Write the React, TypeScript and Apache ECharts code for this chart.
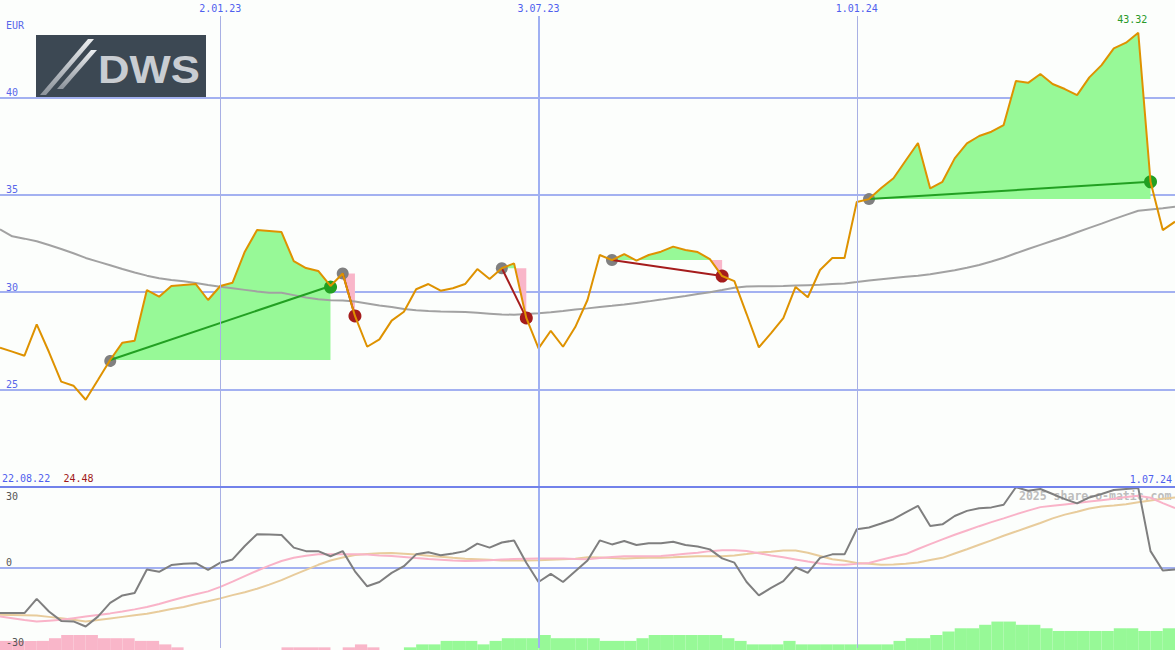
import React, { useEffect, useRef } from 'react';
import * as echarts from 'echarts';

// Weekly closing prices (EUR), first week starting 29.08.22
const seriesStart = '2022-08-29';
const axisEndDate = '2024-07-01';

const price = [
  27.15, 26.95, 26.74, 28.35, 26.93, 25.41, 25.2, 24.48, 25.49, 26.52,
  27.41, 27.51, 30.11, 29.77, 30.32, 30.37, 30.42, 29.6, 30.32, 30.49,
  32.08, 33.19, 33.14, 33.09, 31.6, 31.24, 31.09, 30.32, 30.96, 28.78,
  27.2, 27.58, 28.54, 29.0, 30.15, 30.42, 30.08, 30.2, 30.42, 31.19,
  30.68, 31.23, 31.48, 28.68, 27.12, 28.02, 27.2, 28.21, 29.6, 31.91,
  31.65, 31.96, 31.62, 31.91, 32.08, 32.34, 32.17, 32.06, 31.7, 30.83,
  30.57, 28.88, 27.17, 27.9, 28.67, 30.27, 29.74, 31.14, 31.76, 31.76,
  34.63, 34.78, 35.35, 35.85, 36.76, 37.66, 35.33, 35.67, 36.87, 37.64,
  38.02, 38.24, 38.58, 40.84, 40.75, 41.2, 40.69, 40.43, 40.12, 41.03,
  41.66, 42.52, 42.81, 43.32, 35.67, 33.19, 33.62,
];

// Long moving average of the price
const priceAverage = [
  33.23, 32.87, 32.75, 32.62, 32.42, 32.22, 32.0, 31.76, 31.57, 31.38,
  31.19, 31.01, 30.85, 30.72, 30.63, 30.56, 30.47, 30.37, 30.28, 30.2,
  30.12, 30.04, 29.97, 29.97, 29.85, 29.73, 29.64, 29.59, 29.57, 29.52,
  29.42, 29.32, 29.24, 29.14, 29.08, 29.03, 29.01, 29.0, 28.98, 28.94,
  28.9, 28.86, 28.84, 28.88, 28.92, 28.97, 29.03, 29.11, 29.17, 29.24,
  29.3, 29.37, 29.45, 29.53, 29.62, 29.72, 29.81, 29.91, 30.0, 30.11,
  30.23, 30.29, 30.3, 30.31, 30.32, 30.34, 30.36, 30.38, 30.42, 30.45,
  30.52, 30.6, 30.67, 30.73, 30.79, 30.85, 30.92, 31.03, 31.13, 31.26,
  31.4, 31.58, 31.77, 32.0, 32.22, 32.43, 32.64, 32.85, 33.08, 33.3,
  33.52, 33.75, 33.97, 34.18, 34.25, 34.31, 34.39,
];

// Momentum indicator and its two smoothings
const momentum = [
  -17.0, -17.0, -17.0, -11.7, -16.4, -19.9, -20.1, -22.0, -18.3, -13.2,
  -10.4, -9.5, -0.75, -1.6, 0.9, 1.4, 1.6, -0.9, 1.8, 3.0,
  8.0, 12.4, 12.3, 12.1, 7.4, 6.1, 6.1, 4.2, 6.1, -1.4,
  -7.0, -5.4, -2.0, 0.5, 4.9, 5.7, 4.6, 5.25, 6.1, 8.9,
  7.4, 9.3, 10.1, 1.8, -5.4, -2.4, -5.4, -1.4, 2.6, 10.1,
  8.6, 9.9, 8.4, 9.0, 9.0, 9.6, 8.4, 7.8, 6.75, 3.4,
  1.8, -5.4, -10.4, -7.6, -5.1, 0.1, -2.0, 3.6, 4.9, 4.9,
  14.25, 14.9, 16.4, 18.0, 20.5, 23.0, 15.5, 16.1, 19.2, 21.1,
  22.1, 22.4, 23.4, 29.9, 28.6, 29.25, 27.4, 25.5, 23.9, 26.1,
  27.4, 28.9, 29.25, 29.6, 6.1, -1.1, -0.75,
];

const momentumFast = [
  -18.3, -18.9, -19.6, -20.1, -19.8, -19.5, -18.9, -18.3, -17.7, -17.1,
  -16.4, -15.6, -14.7, -13.6, -12.3, -11.1, -10.0, -8.9, -7.2, -5.25,
  -3.2, -1.2, 0.7, 2.4, 3.6, 4.4, 4.9, 4.9, 4.9, 4.9,
  4.8, 4.5, 4.3, 3.9, 3.5, 3.15, 2.9, 2.6, 2.4, 2.55,
  2.7, 3.0, 3.15, 3.3, 3.4, 3.4, 3.4, 3.2, 3.1, 3.5,
  3.9, 4.2, 4.2, 4.2, 4.3, 4.7, 5.1, 5.5, 6.1, 6.4,
  6.4, 6.15, 5.3, 4.5, 3.8, 3.0, 2.2, 1.5, 1.1, 1.0,
  1.35, 1.7, 2.9, 4.0, 5.0, 6.9, 8.7, 10.5, 12.2, 13.8,
  15.4, 16.9, 18.3, 19.8, 21.2, 22.5, 23.0, 23.5, 24.0, 24.6,
  25.1, 25.6, 26.3, 26.7, 26.0, 24.0, 22.1,
];

const momentumSlow = [
  -17.6, -17.7, -17.8, -17.9, -18.4, -18.9, -19.5, -20.1, -19.6, -19.0,
  -18.4, -17.8, -17.2, -16.4, -15.5, -14.7, -13.6, -12.6, -11.5, -10.3,
  -9.2, -7.9, -6.4, -4.7, -2.75, -0.9, 1.0, 2.6, 3.7, 4.65,
  5.0, 5.3, 5.4, 5.1, 4.8, 4.4, 4.0, 3.6, 3.3, 3.1,
  2.85, 2.6, 2.6, 2.6, 2.7, 2.9, 3.1, 3.3, 3.8, 3.7,
  3.5, 3.4, 3.5, 3.6, 3.6, 3.8, 4.05, 4.2, 4.2, 4.2,
  4.5, 5.0, 5.55, 5.9, 6.3, 6.3, 5.5, 4.3, 3.1, 2.5,
  1.7, 1.4, 1.0, 1.1, 1.4, 1.9, 2.8, 3.6, 5.2, 6.8,
  8.5, 10.1, 11.85, 13.4, 15.0, 16.6, 18.3, 19.7, 20.8, 22.0,
  22.7, 23.1, 23.6, 24.3, 25.0, 25.6, 26.1,
];

// Weekly histogram: negative = pink, positive = green
const momentumHistogram = [
  -3.4, -3.4, -3.4, -3.4, -4.4, -5.6, -5.6, -5.6, -4.4, -4.4,
  -4.4, -3.4, -3.4, -2.1, -1.0, 0, 0, 0, 0, 0,
  0, 0, 0, -1.0, -1.0, -1.0, -1.0, 0, -1.0, -2.1,
  -1.0, 0, 0, 1.0, 2.1, 2.1, 3.4, 3.4, 3.4, 2.1,
  3.4, 4.4, 4.4, 4.4, 5.6, 4.4, 4.4, 4.4, 4.4, 3.4,
  3.4, 3.4, 4.4, 5.6, 5.6, 5.6, 5.6, 5.6, 5.6, 4.4,
  3.4, 2.1, 2.1, 2.1, 3.4, 2.1, 2.1, 2.1, 2.1, 2.1,
  2.1, 2.1, 2.1, 3.4, 4.4, 4.4, 5.6, 6.9, 8.1, 8.1,
  9.4, 10.6, 10.6, 9.4, 9.4, 8.1, 7.1, 7.1, 7.1, 7.1,
  7.1, 8.1, 8.1, 7.1, 7.1, 8.1, 0,
];

// Trades: entry and exit weeks
const tradeEntryDates = ['2022-10-31', '2023-03-13', '2023-06-12', '2023-08-14', '2024-01-08'];
const tradeExitDates = ['2023-03-06', '2023-03-20', '2023-06-26', '2023-10-16', '2024-06-17'];

// Date markers along the time axis
const markDates = ['2023-01-02', '2023-07-03', '2024-01-01'];
const markLabels = ['2.01.23', '3.07.23', '1.01.24'];

const priceTicks = [25, 30, 35, 40];
const currency = 'EUR';
const periodStartLabel = '22.08.22';
const periodEndLabel = '1.07.24';
const watermark = '2025 share-o-matic.com';

const WEEK = 7 * 24 * 3600 * 1000;
const t0 = Date.parse(seriesStart);
const times = price.map((_, i) => t0 + i * WEEK);
const weekIndex = (d: string) => Math.round((Date.parse(d) - t0) / WEEK);

const trades = tradeEntryDates.map((d, k) => {
  const entry = weekIndex(d);
  const exit = weekIndex(tradeExitDates[k]);
  return { entry, exit };
});

const MONO = '"DejaVu Sans Mono", monospace';
const BLUE_TEXT = '#4f60ee';
const GRID_BLUE = '#a3b1f1';
const FILL_GREEN = '#97f997';
const FILL_PINK = '#f9b6c9';
const WIN = '#22a022';
const LOSS = '#a51c1c';
const HIST_BASE = -30.75;

export default function App() {
  const ref = useRef<HTMLDivElement>(null);

  useEffect(() => {
    document.body.style.margin = '0';
    const chart = echarts.init(ref.current!, null, { renderer: 'svg' });

    const pricePoints = times.map((t, i) => [t, price[i]]);
    const minPrice = Math.min(...price);

    const silver = new echarts.graphic.LinearGradient(0, 0, 0, 1, [
      { offset: 0, color: '#eceef0' },
      { offset: 1, color: '#8c939b' },
    ]);

    const verticalMarks = (withLabels: boolean) =>
      markDates.map((d, k) => ({
        xAxis: Date.parse(d),
        lineStyle: k === 1
          ? { color: '#9fb0f2', width: 2, type: 'solid' }
          : { color: '#a8b0e4', width: 1, type: 'solid' },
        label: withLabels
          ? { show: true, position: 'end', formatter: markLabels[k], color: BLUE_TEXT, fontFamily: MONO, fontSize: 10, distance: 3 }
          : { show: false },
      }));

    const option: any = {
      animation: false,
      backgroundColor: '#fcfefc',
      grid: [
        { left: 0, right: 0, top: 16, height: 471 },
        { left: 0, right: 0, top: 487, height: 161 },
      ],
      xAxis: [
        { type: 'time', gridIndex: 0, min: t0, max: Date.parse(axisEndDate), show: false },
        { type: 'time', gridIndex: 1, min: t0, max: Date.parse(axisEndDate), show: false },
      ],
      yAxis: [
        {
          type: 'value', gridIndex: 0, min: 20, max: 44.18, interval: 5,
          axisLine: { show: false }, axisTick: { show: false },
          axisLabel: {
            inside: true, verticalAlign: 'bottom', margin: 6, color: '#5867ea', fontFamily: MONO, fontSize: 10,
            formatter: (v: number) => (priceTicks.includes(v) ? String(v) : ''),
          },
          splitLine: { show: true, showMinLine: false, showMaxLine: false, lineStyle: { color: GRID_BLUE, width: 2 } },
          name: currency, nameLocation: 'end', nameGap: -4,
          nameTextStyle: { align: 'left', verticalAlign: 'top', padding: [0, 0, 0, 6], color: '#5867ea', fontFamily: MONO, fontSize: 10 },
        },
        {
          type: 'value', gridIndex: 1, min: -30, max: 30, interval: 30,
          axisLine: { show: false }, axisTick: { show: false },
          axisLabel: {
            inside: true, verticalAlign: 'bottom', margin: 6, color: '#555555', fontFamily: MONO, fontSize: 10,
            formatter: (v: number) => (v === 0 ? '0' : ''),
          },
          splitLine: { show: true, showMinLine: false, showMaxLine: false, lineStyle: { color: GRID_BLUE, width: 2 } },
        },
      ],
      graphic: [
        {
          type: 'text', left: 1019, top: 490, z: 0, silent: true,
          style: { text: watermark, font: `bold 11.5px ${MONO}`, fill: '#bdbdbd' },
        },
        {
          type: 'group', left: 36, top: 35, z: 100, silent: true,
          children: [
            { type: 'rect', shape: { x: 0, y: 0, width: 170, height: 63 }, style: { fill: '#3c4853' } },
            { type: 'polygon', shape: { points: [[4, 60], [10, 60], [58, 4], [52, 4]] }, style: { fill: silver } },
            { type: 'polygon', shape: { points: [[21, 54], [27, 54], [61, 15], [55, 15]] }, style: { fill: silver } },
            {
              type: 'text', x: 62, y: 35, scaleX: 1.15,
              style: { text: 'DWS', font: 'bold 38px "Liberation Sans", Arial, sans-serif', fill: '#c9cdd2', verticalAlign: 'middle' },
            },
          ],
        },
      ],
      series: [
        {
          // profit / loss areas between price and entry level
          type: 'custom', xAxisIndex: 0, yAxisIndex: 0, z: 1, silent: true,
          data: trades.map((t) => [times[t.entry], price[t.entry], times[t.exit], price[t.exit]]),
          encode: { x: [0, 2], y: [1, 3] },
          renderItem: (params: any, api: any) => {
            const t = trades[params.dataIndex];
            const level = price[t.entry];
            const upper: number[][] = [];
            const lower: number[][] = [];
            for (let i = t.entry; i <= t.exit; i++) {
              if (i > t.entry) {
                const p0 = price[i - 1];
                const p1 = price[i];
                if ((p0 - level) * (p1 - level) < 0) {
                  const f = (level - p0) / (p1 - p0);
                  const tc = times[i - 1] + f * (times[i] - times[i - 1]);
                  upper.push([tc, level]);
                  lower.push([tc, level]);
                }
              }
              upper.push([times[i], Math.max(price[i], level)]);
              lower.push([times[i], Math.min(price[i], level)]);
            }
            const base = [[times[t.exit], level], [times[t.entry], level]];
            const pts = (arr: number[][]) => arr.concat(base).map((p) => api.coord(p));
            return {
              type: 'group',
              children: [
                { type: 'polygon', shape: { points: pts(upper) }, style: { fill: FILL_GREEN } },
                { type: 'polygon', shape: { points: pts(lower) }, style: { fill: FILL_PINK } },
              ],
            };
          },
        },
        {
          type: 'line', xAxisIndex: 0, yAxisIndex: 0, z: 2, silent: true,
          data: times.map((t, i) => [t, priceAverage[i]]),
          symbol: 'none', lineStyle: { color: '#a2a2a2', width: 2 },
        },
        {
          // trade lines with entry / exit markers
          type: 'custom', xAxisIndex: 0, yAxisIndex: 0, z: 3, silent: true,
          data: trades.map((t) => [times[t.entry], price[t.entry], times[t.exit], price[t.exit]]),
          encode: { x: [0, 2], y: [1, 3] },
          renderItem: (params: any, api: any) => {
            const a = api.coord([api.value(0), api.value(1)]);
            const b = api.coord([api.value(2), api.value(3)]);
            const c = api.value(3) > api.value(1) ? WIN : LOSS;
            return {
              type: 'group',
              children: [
                { type: 'circle', shape: { cx: a[0], cy: a[1], r: 6 }, style: { fill: '#808080' } },
                { type: 'circle', shape: { cx: b[0], cy: b[1], r: 6.5 }, style: { fill: c } },
                { type: 'line', shape: { x1: a[0], y1: a[1], x2: b[0], y2: b[1] }, style: { stroke: c, lineWidth: 2 } },
              ],
            };
          },
        },
        {
          type: 'line', xAxisIndex: 0, yAxisIndex: 0, z: 4, silent: true,
          data: pricePoints, symbol: 'none',
          lineStyle: { color: '#de9200', width: 2 },
          markPoint: {
            symbol: 'circle', symbolSize: 0, silent: true,
            data: [{ type: 'max' }],
            label: {
              show: true, position: 'top', distance: 8, offset: [-6, 0],
              formatter: (p: any) => Number(p.value).toFixed(2),
              color: '#2a9a2a', fontFamily: MONO, fontSize: 10,
            },
          },
          markLine: {
            silent: true, symbol: ['none', 'none'],
            data: verticalMarks(true),
          },
        },
        {
          // histogram bars at the bottom of the indicator panel
          type: 'custom', xAxisIndex: 1, yAxisIndex: 1, z: 1, silent: true,
          data: times.map((t, i) => [t, momentumHistogram[i]]),
          renderItem: (params: any, api: any) => {
            const v = api.value(1);
            if (!v) return null;
            const p0 = api.coord([api.value(0), HIST_BASE]);
            const p1 = api.coord([api.value(0) + WEEK, HIST_BASE + Math.abs(v)]);
            return {
              type: 'rect',
              shape: { x: p0[0], y: p1[1], width: p1[0] - p0[0], height: p0[1] - p1[1] },
              style: { fill: v < 0 ? FILL_PINK : FILL_GREEN },
            };
          },
        },
        {
          type: 'line', xAxisIndex: 1, yAxisIndex: 1, z: 2, silent: true,
          data: times.map((t, i) => [t, momentumSlow[i]]),
          symbol: 'none', lineStyle: { color: '#e8cc9c', width: 2 },
        },
        {
          type: 'line', xAxisIndex: 1, yAxisIndex: 1, z: 3, silent: true,
          data: times.map((t, i) => [t, momentumFast[i]]),
          symbol: 'none', lineStyle: { color: '#f9b3c8', width: 2 },
        },
        {
          type: 'line', xAxisIndex: 1, yAxisIndex: 1, z: 4, silent: true,
          data: times.map((t, i) => [t, momentum[i]]),
          symbol: 'none', lineStyle: { color: '#7f7f7f', width: 2 },
          markLine: {
            silent: true, symbol: ['none', 'none'],
            data: [
              ...verticalMarks(false),
              {
                yAxis: -30, lineStyle: { color: 'rgba(0,0,0,0)', width: 1, type: 'solid' },
                label: { show: true, position: 'insideStartTop', formatter: '-30', color: '#555555', fontFamily: MONO, fontSize: 10, distance: [6, 1] },
              },
              {
                yAxis: 30, lineStyle: { color: '#7282ea', width: 2, type: 'solid' },
                label: { show: true, position: 'insideStartBottom', formatter: '30', color: '#555555', fontFamily: MONO, fontSize: 10, distance: [6, 4] },
              },
              {
                yAxis: 30, lineStyle: { color: '#7282ea', width: 2, type: 'solid' },
                label: {
                  show: true, position: 'insideStartTop', distance: [2, 3],
                  formatter: `{d|${periodStartLabel}}    {m|${minPrice.toFixed(2)}}`,
                  rich: {
                    d: { color: BLUE_TEXT, fontFamily: MONO, fontSize: 10 },
                    m: { color: '#a01818', fontFamily: MONO, fontSize: 10 },
                  },
                },
              },
              {
                yAxis: 30, lineStyle: { color: '#7282ea', width: 2, type: 'solid' },
                label: { show: true, position: 'insideEndTop', formatter: periodEndLabel, color: BLUE_TEXT, fontFamily: MONO, fontSize: 10, distance: [3, 3] },
              },
            ],
          },
        },
      ],
    };

    chart.setOption(option);
    return () => chart.dispose();
  }, []);

  return <div ref={ref} style={{ width: 1175, height: 650 }} />;
}
